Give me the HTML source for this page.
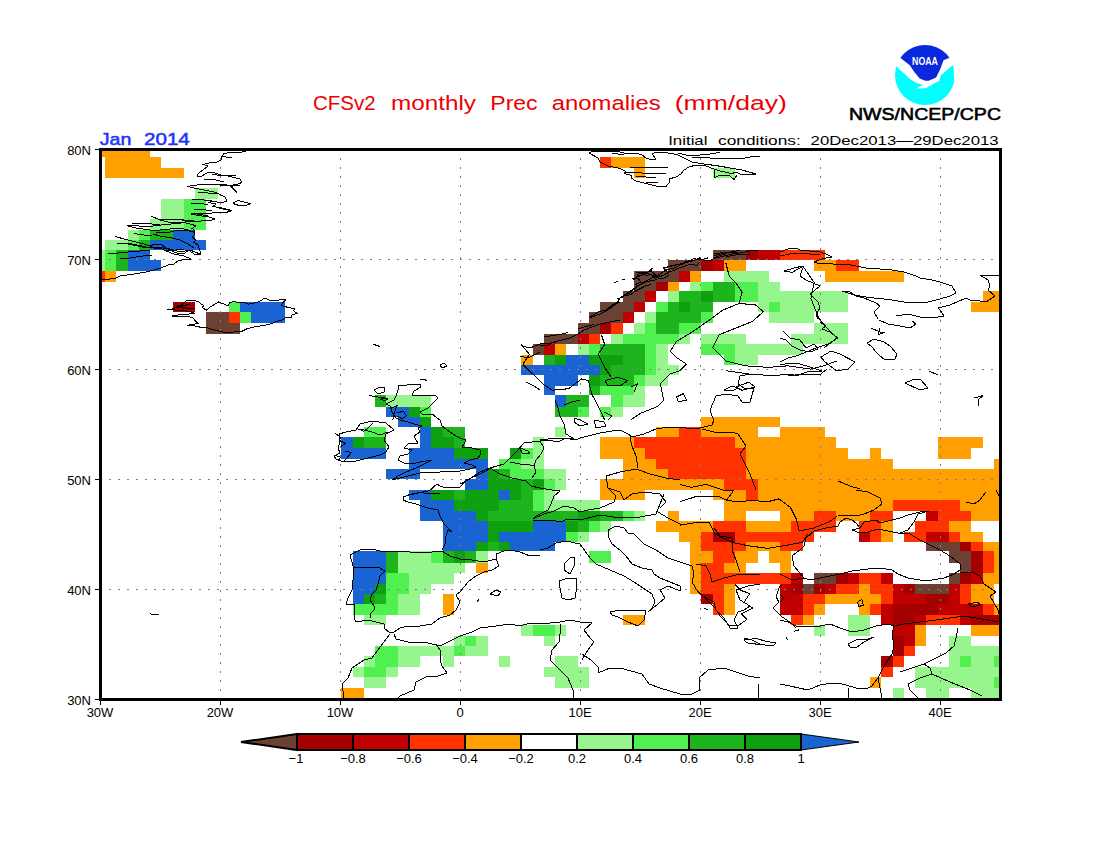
<!DOCTYPE html>
<html><head><meta charset="utf-8"><style>
html,body{margin:0;padding:0;background:#fff;}
svg{display:block;}
text{font-family:"Liberation Sans",sans-serif;}
</style></head><body>
<svg width="1100" height="850" viewBox="0 0 1100 850">
<rect x="0" y="0" width="1100" height="850" fill="#fff"/>
<g shape-rendering="crispEdges">
<rect x="101" y="150" width="49" height="7" fill="#ffa000"/>
<rect x="105" y="157" width="56" height="11" fill="#ffa000"/>
<rect x="600" y="157" width="11" height="11" fill="#ff3200"/>
<rect x="611" y="157" width="34" height="11" fill="#ffa000"/>
<rect x="105" y="168" width="79" height="10" fill="#ffa000"/>
<rect x="634" y="168" width="11" height="10" fill="#ffa000"/>
<rect x="713" y="168" width="22" height="10" fill="#96f58c"/>
<rect x="195" y="188" width="23" height="11" fill="#96f58c"/>
<rect x="161" y="199" width="23" height="10" fill="#96f58c"/>
<rect x="184" y="199" width="22" height="10" fill="#50f050"/>
<rect x="161" y="209" width="23" height="10" fill="#96f58c"/>
<rect x="184" y="209" width="22" height="10" fill="#50f050"/>
<rect x="150" y="219" width="34" height="11" fill="#96f58c"/>
<rect x="184" y="219" width="22" height="11" fill="#50f050"/>
<rect x="128" y="230" width="11" height="10" fill="#96f58c"/>
<rect x="139" y="230" width="11" height="10" fill="#50f050"/>
<rect x="150" y="230" width="23" height="10" fill="#1eb41e"/>
<rect x="173" y="230" width="22" height="10" fill="#1964d2"/>
<rect x="105" y="240" width="23" height="10" fill="#96f58c"/>
<rect x="128" y="240" width="11" height="10" fill="#50f050"/>
<rect x="139" y="240" width="11" height="10" fill="#1eb41e"/>
<rect x="150" y="240" width="56" height="10" fill="#1964d2"/>
<rect x="101" y="250" width="4" height="10" fill="#96f58c"/>
<rect x="105" y="250" width="11" height="10" fill="#50f050"/>
<rect x="116" y="250" width="12" height="10" fill="#1eb41e"/>
<rect x="128" y="250" width="22" height="10" fill="#1964d2"/>
<rect x="713" y="250" width="33" height="10" fill="#6b4134"/>
<rect x="746" y="250" width="12" height="10" fill="#a50000"/>
<rect x="758" y="250" width="22" height="10" fill="#c00000"/>
<rect x="780" y="250" width="45" height="10" fill="#ff3200"/>
<rect x="101" y="260" width="4" height="11" fill="#96f58c"/>
<rect x="105" y="260" width="11" height="11" fill="#50f050"/>
<rect x="116" y="260" width="12" height="11" fill="#1eb41e"/>
<rect x="128" y="260" width="33" height="11" fill="#1964d2"/>
<rect x="668" y="260" width="33" height="11" fill="#6b4134"/>
<rect x="701" y="260" width="12" height="11" fill="#a50000"/>
<rect x="713" y="260" width="11" height="11" fill="#c00000"/>
<rect x="724" y="260" width="22" height="11" fill="#ffa000"/>
<rect x="814" y="260" width="22" height="11" fill="#ffa000"/>
<rect x="836" y="260" width="23" height="11" fill="#ff3200"/>
<rect x="101" y="271" width="4" height="11" fill="#ff3200"/>
<rect x="105" y="271" width="11" height="11" fill="#ffa000"/>
<rect x="634" y="271" width="45" height="11" fill="#6b4134"/>
<rect x="679" y="271" width="11" height="11" fill="#c00000"/>
<rect x="690" y="271" width="11" height="11" fill="#ffa000"/>
<rect x="724" y="271" width="45" height="11" fill="#96f58c"/>
<rect x="825" y="271" width="79" height="11" fill="#ffa000"/>
<rect x="634" y="282" width="22" height="9" fill="#6b4134"/>
<rect x="656" y="282" width="12" height="9" fill="#a50000"/>
<rect x="668" y="282" width="11" height="9" fill="#ffa000"/>
<rect x="690" y="282" width="11" height="9" fill="#96f58c"/>
<rect x="701" y="282" width="12" height="9" fill="#50f050"/>
<rect x="713" y="282" width="22" height="9" fill="#1eb41e"/>
<rect x="735" y="282" width="23" height="9" fill="#50f050"/>
<rect x="758" y="282" width="22" height="9" fill="#96f58c"/>
<rect x="623" y="291" width="22" height="11" fill="#6b4134"/>
<rect x="645" y="291" width="11" height="11" fill="#c00000"/>
<rect x="668" y="291" width="11" height="11" fill="#96f58c"/>
<rect x="679" y="291" width="22" height="11" fill="#1eb41e"/>
<rect x="701" y="291" width="12" height="11" fill="#0fa00f"/>
<rect x="713" y="291" width="22" height="11" fill="#1eb41e"/>
<rect x="735" y="291" width="23" height="11" fill="#50f050"/>
<rect x="758" y="291" width="90" height="11" fill="#96f58c"/>
<rect x="983" y="291" width="17" height="11" fill="#ffa000"/>
<rect x="173" y="302" width="22" height="10" fill="#a50000"/>
<rect x="229" y="302" width="11" height="10" fill="#50f050"/>
<rect x="240" y="302" width="45" height="10" fill="#1964d2"/>
<rect x="600" y="302" width="34" height="10" fill="#6b4134"/>
<rect x="634" y="302" width="11" height="10" fill="#c00000"/>
<rect x="656" y="302" width="12" height="10" fill="#50f050"/>
<rect x="668" y="302" width="11" height="10" fill="#1eb41e"/>
<rect x="679" y="302" width="11" height="10" fill="#0fa00f"/>
<rect x="690" y="302" width="23" height="10" fill="#1eb41e"/>
<rect x="758" y="302" width="11" height="10" fill="#96f58c"/>
<rect x="769" y="302" width="11" height="10" fill="#50f050"/>
<rect x="780" y="302" width="68" height="10" fill="#96f58c"/>
<rect x="971" y="302" width="29" height="10" fill="#ffa000"/>
<rect x="206" y="312" width="23" height="11" fill="#6b4134"/>
<rect x="229" y="312" width="11" height="11" fill="#ff3200"/>
<rect x="240" y="312" width="11" height="11" fill="#50f050"/>
<rect x="251" y="312" width="34" height="11" fill="#1964d2"/>
<rect x="589" y="312" width="34" height="11" fill="#6b4134"/>
<rect x="623" y="312" width="11" height="11" fill="#c00000"/>
<rect x="645" y="312" width="11" height="11" fill="#96f58c"/>
<rect x="656" y="312" width="45" height="11" fill="#1eb41e"/>
<rect x="701" y="312" width="12" height="11" fill="#50f050"/>
<rect x="769" y="312" width="45" height="11" fill="#96f58c"/>
<rect x="206" y="323" width="34" height="11" fill="#6b4134"/>
<rect x="578" y="323" width="22" height="11" fill="#6b4134"/>
<rect x="600" y="323" width="11" height="11" fill="#a50000"/>
<rect x="611" y="323" width="12" height="11" fill="#ff3200"/>
<rect x="634" y="323" width="11" height="11" fill="#96f58c"/>
<rect x="645" y="323" width="11" height="11" fill="#50f050"/>
<rect x="656" y="323" width="23" height="11" fill="#1eb41e"/>
<rect x="679" y="323" width="22" height="11" fill="#50f050"/>
<rect x="814" y="323" width="34" height="11" fill="#96f58c"/>
<rect x="544" y="334" width="34" height="10" fill="#6b4134"/>
<rect x="578" y="334" width="11" height="10" fill="#c00000"/>
<rect x="589" y="334" width="11" height="10" fill="#ff3200"/>
<rect x="611" y="334" width="12" height="10" fill="#96f58c"/>
<rect x="623" y="334" width="56" height="10" fill="#50f050"/>
<rect x="679" y="334" width="11" height="10" fill="#96f58c"/>
<rect x="701" y="334" width="45" height="10" fill="#96f58c"/>
<rect x="791" y="334" width="57" height="10" fill="#96f58c"/>
<rect x="533" y="344" width="11" height="11" fill="#6b4134"/>
<rect x="544" y="344" width="11" height="11" fill="#c00000"/>
<rect x="555" y="344" width="11" height="11" fill="#ffa000"/>
<rect x="578" y="344" width="11" height="11" fill="#96f58c"/>
<rect x="589" y="344" width="11" height="11" fill="#50f050"/>
<rect x="600" y="344" width="45" height="11" fill="#1eb41e"/>
<rect x="645" y="344" width="11" height="11" fill="#50f050"/>
<rect x="656" y="344" width="12" height="11" fill="#96f58c"/>
<rect x="701" y="344" width="34" height="11" fill="#50f050"/>
<rect x="735" y="344" width="68" height="11" fill="#96f58c"/>
<rect x="521" y="355" width="12" height="10" fill="#ffa000"/>
<rect x="544" y="355" width="11" height="10" fill="#1eb41e"/>
<rect x="555" y="355" width="11" height="10" fill="#0fa00f"/>
<rect x="566" y="355" width="23" height="10" fill="#1964d2"/>
<rect x="589" y="355" width="34" height="10" fill="#0fa00f"/>
<rect x="623" y="355" width="22" height="10" fill="#1eb41e"/>
<rect x="645" y="355" width="11" height="10" fill="#50f050"/>
<rect x="656" y="355" width="12" height="10" fill="#96f58c"/>
<rect x="724" y="355" width="11" height="10" fill="#50f050"/>
<rect x="735" y="355" width="23" height="10" fill="#96f58c"/>
<rect x="521" y="365" width="79" height="10" fill="#1964d2"/>
<rect x="600" y="365" width="11" height="10" fill="#0fa00f"/>
<rect x="611" y="365" width="34" height="10" fill="#1eb41e"/>
<rect x="645" y="365" width="11" height="10" fill="#50f050"/>
<rect x="656" y="365" width="23" height="10" fill="#96f58c"/>
<rect x="544" y="375" width="34" height="11" fill="#1964d2"/>
<rect x="589" y="375" width="11" height="11" fill="#0fa00f"/>
<rect x="600" y="375" width="34" height="11" fill="#1eb41e"/>
<rect x="634" y="375" width="11" height="11" fill="#50f050"/>
<rect x="645" y="375" width="23" height="11" fill="#96f58c"/>
<rect x="544" y="386" width="11" height="9" fill="#1964d2"/>
<rect x="589" y="386" width="11" height="9" fill="#1eb41e"/>
<rect x="600" y="386" width="34" height="9" fill="#50f050"/>
<rect x="634" y="386" width="11" height="9" fill="#96f58c"/>
<rect x="375" y="395" width="11" height="12" fill="#1eb41e"/>
<rect x="386" y="395" width="45" height="12" fill="#96f58c"/>
<rect x="555" y="395" width="11" height="12" fill="#1964d2"/>
<rect x="566" y="395" width="23" height="12" fill="#1eb41e"/>
<rect x="611" y="395" width="12" height="12" fill="#50f050"/>
<rect x="623" y="395" width="22" height="12" fill="#96f58c"/>
<rect x="386" y="407" width="23" height="10" fill="#1964d2"/>
<rect x="409" y="407" width="11" height="10" fill="#0fa00f"/>
<rect x="420" y="407" width="11" height="10" fill="#50f050"/>
<rect x="555" y="407" width="23" height="10" fill="#1eb41e"/>
<rect x="578" y="407" width="11" height="10" fill="#50f050"/>
<rect x="600" y="407" width="11" height="10" fill="#50f050"/>
<rect x="611" y="407" width="12" height="10" fill="#96f58c"/>
<rect x="398" y="417" width="22" height="10" fill="#1964d2"/>
<rect x="420" y="417" width="11" height="10" fill="#0fa00f"/>
<rect x="701" y="417" width="79" height="10" fill="#ffa000"/>
<rect x="364" y="427" width="22" height="10" fill="#50f050"/>
<rect x="420" y="427" width="11" height="10" fill="#1964d2"/>
<rect x="431" y="427" width="12" height="10" fill="#0fa00f"/>
<rect x="443" y="427" width="22" height="10" fill="#1eb41e"/>
<rect x="555" y="427" width="11" height="10" fill="#96f58c"/>
<rect x="656" y="427" width="23" height="10" fill="#ffa000"/>
<rect x="679" y="427" width="22" height="10" fill="#ff3200"/>
<rect x="701" y="427" width="57" height="10" fill="#ffa000"/>
<rect x="780" y="427" width="45" height="10" fill="#ffa000"/>
<rect x="341" y="437" width="12" height="11" fill="#1964d2"/>
<rect x="353" y="437" width="11" height="11" fill="#0fa00f"/>
<rect x="364" y="437" width="22" height="11" fill="#1eb41e"/>
<rect x="420" y="437" width="11" height="11" fill="#1964d2"/>
<rect x="431" y="437" width="23" height="11" fill="#0fa00f"/>
<rect x="454" y="437" width="11" height="11" fill="#1eb41e"/>
<rect x="533" y="437" width="11" height="11" fill="#96f58c"/>
<rect x="600" y="437" width="34" height="11" fill="#ffa000"/>
<rect x="634" y="437" width="101" height="11" fill="#ff3200"/>
<rect x="735" y="437" width="101" height="11" fill="#ffa000"/>
<rect x="938" y="437" width="45" height="11" fill="#ffa000"/>
<rect x="341" y="448" width="45" height="11" fill="#1964d2"/>
<rect x="409" y="448" width="45" height="11" fill="#1964d2"/>
<rect x="454" y="448" width="34" height="11" fill="#0fa00f"/>
<rect x="510" y="448" width="11" height="11" fill="#0fa00f"/>
<rect x="521" y="448" width="12" height="11" fill="#50f050"/>
<rect x="533" y="448" width="11" height="11" fill="#96f58c"/>
<rect x="600" y="448" width="45" height="11" fill="#ffa000"/>
<rect x="645" y="448" width="101" height="11" fill="#ff3200"/>
<rect x="746" y="448" width="102" height="11" fill="#ffa000"/>
<rect x="870" y="448" width="11" height="11" fill="#ffa000"/>
<rect x="938" y="448" width="33" height="11" fill="#ffa000"/>
<rect x="409" y="459" width="79" height="10" fill="#1964d2"/>
<rect x="499" y="459" width="22" height="10" fill="#50f050"/>
<rect x="521" y="459" width="23" height="10" fill="#96f58c"/>
<rect x="623" y="459" width="33" height="10" fill="#ffa000"/>
<rect x="656" y="459" width="90" height="10" fill="#ff3200"/>
<rect x="746" y="459" width="147" height="10" fill="#ffa000"/>
<rect x="994" y="459" width="6" height="10" fill="#ffa000"/>
<rect x="386" y="469" width="34" height="10" fill="#1964d2"/>
<rect x="476" y="469" width="12" height="10" fill="#1964d2"/>
<rect x="488" y="469" width="11" height="10" fill="#0fa00f"/>
<rect x="499" y="469" width="11" height="10" fill="#1eb41e"/>
<rect x="510" y="469" width="34" height="10" fill="#50f050"/>
<rect x="544" y="469" width="22" height="10" fill="#96f58c"/>
<rect x="623" y="469" width="45" height="10" fill="#ffa000"/>
<rect x="668" y="469" width="78" height="10" fill="#ff3200"/>
<rect x="746" y="469" width="254" height="10" fill="#ffa000"/>
<rect x="465" y="479" width="23" height="11" fill="#1964d2"/>
<rect x="488" y="479" width="33" height="11" fill="#0fa00f"/>
<rect x="521" y="479" width="12" height="11" fill="#1eb41e"/>
<rect x="533" y="479" width="11" height="11" fill="#0fa00f"/>
<rect x="544" y="479" width="11" height="11" fill="#50f050"/>
<rect x="555" y="479" width="11" height="11" fill="#96f58c"/>
<rect x="600" y="479" width="124" height="11" fill="#ffa000"/>
<rect x="724" y="479" width="34" height="11" fill="#ff3200"/>
<rect x="758" y="479" width="242" height="11" fill="#ffa000"/>
<rect x="409" y="490" width="22" height="10" fill="#1964d2"/>
<rect x="431" y="490" width="23" height="10" fill="#0fa00f"/>
<rect x="454" y="490" width="11" height="10" fill="#1eb41e"/>
<rect x="465" y="490" width="34" height="10" fill="#0fa00f"/>
<rect x="499" y="490" width="11" height="10" fill="#1964d2"/>
<rect x="510" y="490" width="11" height="10" fill="#0fa00f"/>
<rect x="521" y="490" width="12" height="10" fill="#1eb41e"/>
<rect x="533" y="490" width="11" height="10" fill="#50f050"/>
<rect x="544" y="490" width="11" height="10" fill="#96f58c"/>
<rect x="600" y="490" width="45" height="10" fill="#ffa000"/>
<rect x="713" y="490" width="33" height="10" fill="#ffa000"/>
<rect x="746" y="490" width="12" height="10" fill="#ff3200"/>
<rect x="758" y="490" width="242" height="10" fill="#ffa000"/>
<rect x="420" y="500" width="34" height="11" fill="#1964d2"/>
<rect x="454" y="500" width="45" height="11" fill="#0fa00f"/>
<rect x="499" y="500" width="34" height="11" fill="#1eb41e"/>
<rect x="533" y="500" width="11" height="11" fill="#50f050"/>
<rect x="544" y="500" width="56" height="11" fill="#96f58c"/>
<rect x="724" y="500" width="169" height="11" fill="#ffa000"/>
<rect x="893" y="500" width="67" height="11" fill="#ff3200"/>
<rect x="960" y="500" width="40" height="11" fill="#ffa000"/>
<rect x="420" y="511" width="56" height="10" fill="#1964d2"/>
<rect x="476" y="511" width="12" height="10" fill="#0fa00f"/>
<rect x="488" y="511" width="90" height="10" fill="#1eb41e"/>
<rect x="578" y="511" width="22" height="10" fill="#0fa00f"/>
<rect x="600" y="511" width="23" height="10" fill="#1eb41e"/>
<rect x="623" y="511" width="11" height="10" fill="#50f050"/>
<rect x="634" y="511" width="11" height="10" fill="#96f58c"/>
<rect x="668" y="511" width="11" height="10" fill="#ffa000"/>
<rect x="724" y="511" width="22" height="10" fill="#ffa000"/>
<rect x="780" y="511" width="34" height="10" fill="#ffa000"/>
<rect x="814" y="511" width="22" height="10" fill="#ff3200"/>
<rect x="836" y="511" width="34" height="10" fill="#ffa000"/>
<rect x="870" y="511" width="23" height="10" fill="#ff3200"/>
<rect x="926" y="511" width="12" height="10" fill="#c00000"/>
<rect x="938" y="511" width="33" height="10" fill="#ff3200"/>
<rect x="971" y="511" width="29" height="10" fill="#ffa000"/>
<rect x="443" y="521" width="45" height="11" fill="#1964d2"/>
<rect x="488" y="521" width="45" height="11" fill="#0fa00f"/>
<rect x="533" y="521" width="33" height="11" fill="#1964d2"/>
<rect x="566" y="521" width="12" height="11" fill="#0fa00f"/>
<rect x="578" y="521" width="11" height="11" fill="#1eb41e"/>
<rect x="589" y="521" width="11" height="11" fill="#50f050"/>
<rect x="600" y="521" width="11" height="11" fill="#96f58c"/>
<rect x="656" y="521" width="57" height="11" fill="#ffa000"/>
<rect x="713" y="521" width="33" height="11" fill="#ff3200"/>
<rect x="746" y="521" width="45" height="11" fill="#ffa000"/>
<rect x="791" y="521" width="45" height="11" fill="#ff3200"/>
<rect x="859" y="521" width="22" height="11" fill="#ff3200"/>
<rect x="881" y="521" width="12" height="11" fill="#ffa000"/>
<rect x="915" y="521" width="34" height="11" fill="#ff3200"/>
<rect x="949" y="521" width="22" height="11" fill="#ffa000"/>
<rect x="443" y="532" width="45" height="10" fill="#1964d2"/>
<rect x="488" y="532" width="11" height="10" fill="#0fa00f"/>
<rect x="499" y="532" width="67" height="10" fill="#1964d2"/>
<rect x="566" y="532" width="12" height="10" fill="#50f050"/>
<rect x="578" y="532" width="11" height="10" fill="#96f58c"/>
<rect x="679" y="532" width="22" height="10" fill="#ffa000"/>
<rect x="701" y="532" width="12" height="10" fill="#ff3200"/>
<rect x="713" y="532" width="22" height="10" fill="#a50000"/>
<rect x="735" y="532" width="79" height="10" fill="#ff3200"/>
<rect x="859" y="532" width="11" height="10" fill="#c00000"/>
<rect x="870" y="532" width="11" height="10" fill="#ff3200"/>
<rect x="881" y="532" width="12" height="10" fill="#ffa000"/>
<rect x="904" y="532" width="22" height="10" fill="#ff3200"/>
<rect x="926" y="532" width="23" height="10" fill="#c00000"/>
<rect x="949" y="532" width="11" height="10" fill="#ff3200"/>
<rect x="960" y="532" width="23" height="10" fill="#ffa000"/>
<rect x="443" y="542" width="33" height="9" fill="#1964d2"/>
<rect x="476" y="542" width="12" height="9" fill="#0fa00f"/>
<rect x="488" y="542" width="11" height="9" fill="#1eb41e"/>
<rect x="499" y="542" width="11" height="9" fill="#0fa00f"/>
<rect x="510" y="542" width="45" height="9" fill="#1964d2"/>
<rect x="690" y="542" width="11" height="9" fill="#ffa000"/>
<rect x="701" y="542" width="45" height="9" fill="#ff3200"/>
<rect x="746" y="542" width="34" height="9" fill="#ffa000"/>
<rect x="780" y="542" width="23" height="9" fill="#ff3200"/>
<rect x="926" y="542" width="34" height="9" fill="#6b4134"/>
<rect x="960" y="542" width="11" height="9" fill="#a50000"/>
<rect x="971" y="542" width="12" height="9" fill="#ff3200"/>
<rect x="983" y="542" width="17" height="9" fill="#ffa000"/>
<rect x="353" y="551" width="33" height="12" fill="#1964d2"/>
<rect x="386" y="551" width="12" height="12" fill="#1eb41e"/>
<rect x="398" y="551" width="33" height="12" fill="#96f58c"/>
<rect x="431" y="551" width="12" height="12" fill="#50f050"/>
<rect x="443" y="551" width="11" height="12" fill="#1eb41e"/>
<rect x="454" y="551" width="11" height="12" fill="#0fa00f"/>
<rect x="465" y="551" width="11" height="12" fill="#1eb41e"/>
<rect x="476" y="551" width="12" height="12" fill="#96f58c"/>
<rect x="589" y="551" width="22" height="12" fill="#50f050"/>
<rect x="690" y="551" width="23" height="12" fill="#ffa000"/>
<rect x="713" y="551" width="22" height="12" fill="#ff3200"/>
<rect x="735" y="551" width="23" height="12" fill="#ffa000"/>
<rect x="769" y="551" width="22" height="12" fill="#ffa000"/>
<rect x="949" y="551" width="22" height="12" fill="#6b4134"/>
<rect x="971" y="551" width="12" height="12" fill="#a50000"/>
<rect x="983" y="551" width="11" height="12" fill="#ff3200"/>
<rect x="994" y="551" width="6" height="12" fill="#ffa000"/>
<rect x="353" y="563" width="33" height="10" fill="#1964d2"/>
<rect x="386" y="563" width="12" height="10" fill="#1eb41e"/>
<rect x="398" y="563" width="67" height="10" fill="#96f58c"/>
<rect x="476" y="563" width="12" height="10" fill="#ffa000"/>
<rect x="690" y="563" width="11" height="10" fill="#ffa000"/>
<rect x="701" y="563" width="23" height="10" fill="#ff3200"/>
<rect x="724" y="563" width="22" height="10" fill="#ffa000"/>
<rect x="780" y="563" width="11" height="10" fill="#ffa000"/>
<rect x="960" y="563" width="11" height="10" fill="#6b4134"/>
<rect x="971" y="563" width="12" height="10" fill="#a50000"/>
<rect x="983" y="563" width="11" height="10" fill="#ff3200"/>
<rect x="994" y="563" width="6" height="10" fill="#ffa000"/>
<rect x="353" y="573" width="33" height="11" fill="#1964d2"/>
<rect x="386" y="573" width="23" height="11" fill="#50f050"/>
<rect x="409" y="573" width="45" height="11" fill="#96f58c"/>
<rect x="690" y="573" width="11" height="11" fill="#ffa000"/>
<rect x="701" y="573" width="90" height="11" fill="#ff3200"/>
<rect x="791" y="573" width="12" height="11" fill="#c00000"/>
<rect x="814" y="573" width="22" height="11" fill="#6b4134"/>
<rect x="836" y="573" width="12" height="11" fill="#a50000"/>
<rect x="848" y="573" width="11" height="11" fill="#c00000"/>
<rect x="859" y="573" width="22" height="11" fill="#ff3200"/>
<rect x="881" y="573" width="12" height="11" fill="#c00000"/>
<rect x="949" y="573" width="11" height="11" fill="#6b4134"/>
<rect x="960" y="573" width="11" height="11" fill="#a50000"/>
<rect x="971" y="573" width="12" height="11" fill="#c00000"/>
<rect x="983" y="573" width="17" height="11" fill="#ffa000"/>
<rect x="353" y="584" width="22" height="10" fill="#1964d2"/>
<rect x="375" y="584" width="11" height="10" fill="#0fa00f"/>
<rect x="386" y="584" width="23" height="10" fill="#50f050"/>
<rect x="409" y="584" width="22" height="10" fill="#96f58c"/>
<rect x="690" y="584" width="11" height="10" fill="#ffa000"/>
<rect x="701" y="584" width="23" height="10" fill="#ff3200"/>
<rect x="724" y="584" width="11" height="10" fill="#ffa000"/>
<rect x="780" y="584" width="11" height="10" fill="#c00000"/>
<rect x="791" y="584" width="12" height="10" fill="#a50000"/>
<rect x="803" y="584" width="11" height="10" fill="#6b4134"/>
<rect x="814" y="584" width="11" height="10" fill="#a50000"/>
<rect x="825" y="584" width="11" height="10" fill="#c00000"/>
<rect x="836" y="584" width="23" height="10" fill="#ff3200"/>
<rect x="859" y="584" width="11" height="10" fill="#ffa000"/>
<rect x="870" y="584" width="23" height="10" fill="#ff3200"/>
<rect x="893" y="584" width="11" height="10" fill="#c00000"/>
<rect x="904" y="584" width="11" height="10" fill="#a50000"/>
<rect x="915" y="584" width="34" height="10" fill="#6b4134"/>
<rect x="949" y="584" width="11" height="10" fill="#c00000"/>
<rect x="960" y="584" width="11" height="10" fill="#ff3200"/>
<rect x="971" y="584" width="23" height="10" fill="#ffa000"/>
<rect x="353" y="594" width="11" height="10" fill="#1964d2"/>
<rect x="364" y="594" width="11" height="10" fill="#0fa00f"/>
<rect x="375" y="594" width="11" height="10" fill="#1eb41e"/>
<rect x="386" y="594" width="12" height="10" fill="#50f050"/>
<rect x="398" y="594" width="22" height="10" fill="#96f58c"/>
<rect x="443" y="594" width="11" height="10" fill="#ffa000"/>
<rect x="701" y="594" width="12" height="10" fill="#a50000"/>
<rect x="713" y="594" width="11" height="10" fill="#ff3200"/>
<rect x="724" y="594" width="11" height="10" fill="#ffa000"/>
<rect x="780" y="594" width="23" height="10" fill="#c00000"/>
<rect x="803" y="594" width="22" height="10" fill="#ff3200"/>
<rect x="825" y="594" width="56" height="10" fill="#ffa000"/>
<rect x="881" y="594" width="12" height="10" fill="#ff3200"/>
<rect x="893" y="594" width="33" height="10" fill="#c00000"/>
<rect x="926" y="594" width="23" height="10" fill="#a50000"/>
<rect x="949" y="594" width="11" height="10" fill="#c00000"/>
<rect x="960" y="594" width="11" height="10" fill="#ff3200"/>
<rect x="971" y="594" width="23" height="10" fill="#ffa000"/>
<rect x="353" y="604" width="45" height="11" fill="#50f050"/>
<rect x="398" y="604" width="22" height="11" fill="#96f58c"/>
<rect x="443" y="604" width="11" height="11" fill="#ffa000"/>
<rect x="713" y="604" width="11" height="11" fill="#ff3200"/>
<rect x="724" y="604" width="11" height="11" fill="#ffa000"/>
<rect x="780" y="604" width="23" height="11" fill="#c00000"/>
<rect x="803" y="604" width="11" height="11" fill="#ff3200"/>
<rect x="814" y="604" width="11" height="11" fill="#ffa000"/>
<rect x="859" y="604" width="11" height="11" fill="#ffa000"/>
<rect x="870" y="604" width="11" height="11" fill="#ff3200"/>
<rect x="881" y="604" width="12" height="11" fill="#c00000"/>
<rect x="893" y="604" width="45" height="11" fill="#a50000"/>
<rect x="938" y="604" width="45" height="11" fill="#c00000"/>
<rect x="983" y="604" width="11" height="11" fill="#ff3200"/>
<rect x="994" y="604" width="6" height="11" fill="#ffa000"/>
<rect x="364" y="615" width="22" height="10" fill="#96f58c"/>
<rect x="623" y="615" width="22" height="10" fill="#ffa000"/>
<rect x="791" y="615" width="12" height="10" fill="#ff3200"/>
<rect x="803" y="615" width="11" height="10" fill="#ffa000"/>
<rect x="848" y="615" width="22" height="10" fill="#96f58c"/>
<rect x="881" y="615" width="12" height="10" fill="#c00000"/>
<rect x="893" y="615" width="22" height="10" fill="#a50000"/>
<rect x="915" y="615" width="11" height="10" fill="#c00000"/>
<rect x="926" y="615" width="34" height="10" fill="#ff3200"/>
<rect x="960" y="615" width="11" height="10" fill="#c00000"/>
<rect x="971" y="615" width="29" height="10" fill="#a50000"/>
<rect x="521" y="625" width="12" height="11" fill="#96f58c"/>
<rect x="533" y="625" width="22" height="11" fill="#50f050"/>
<rect x="555" y="625" width="11" height="11" fill="#96f58c"/>
<rect x="814" y="625" width="11" height="11" fill="#96f58c"/>
<rect x="848" y="625" width="22" height="11" fill="#96f58c"/>
<rect x="893" y="625" width="22" height="11" fill="#c00000"/>
<rect x="915" y="625" width="11" height="11" fill="#ffa000"/>
<rect x="971" y="625" width="29" height="11" fill="#ffa000"/>
<rect x="454" y="636" width="11" height="10" fill="#96f58c"/>
<rect x="465" y="636" width="11" height="10" fill="#50f050"/>
<rect x="476" y="636" width="12" height="10" fill="#96f58c"/>
<rect x="544" y="636" width="11" height="10" fill="#96f58c"/>
<rect x="893" y="636" width="11" height="10" fill="#a50000"/>
<rect x="904" y="636" width="11" height="10" fill="#c00000"/>
<rect x="915" y="636" width="11" height="10" fill="#ffa000"/>
<rect x="949" y="636" width="22" height="10" fill="#96f58c"/>
<rect x="375" y="646" width="23" height="10" fill="#50f050"/>
<rect x="398" y="646" width="56" height="10" fill="#96f58c"/>
<rect x="454" y="646" width="11" height="10" fill="#50f050"/>
<rect x="465" y="646" width="23" height="10" fill="#96f58c"/>
<rect x="893" y="646" width="11" height="10" fill="#a50000"/>
<rect x="904" y="646" width="11" height="10" fill="#ff3200"/>
<rect x="949" y="646" width="51" height="10" fill="#96f58c"/>
<rect x="364" y="656" width="11" height="11" fill="#96f58c"/>
<rect x="375" y="656" width="23" height="11" fill="#50f050"/>
<rect x="398" y="656" width="22" height="11" fill="#96f58c"/>
<rect x="443" y="656" width="11" height="11" fill="#96f58c"/>
<rect x="499" y="656" width="11" height="11" fill="#96f58c"/>
<rect x="555" y="656" width="23" height="11" fill="#96f58c"/>
<rect x="881" y="656" width="12" height="11" fill="#a50000"/>
<rect x="893" y="656" width="11" height="11" fill="#ff3200"/>
<rect x="949" y="656" width="11" height="11" fill="#96f58c"/>
<rect x="960" y="656" width="11" height="11" fill="#50f050"/>
<rect x="971" y="656" width="23" height="11" fill="#96f58c"/>
<rect x="994" y="656" width="6" height="11" fill="#50f050"/>
<rect x="353" y="667" width="11" height="10" fill="#96f58c"/>
<rect x="364" y="667" width="22" height="10" fill="#50f050"/>
<rect x="386" y="667" width="12" height="10" fill="#96f58c"/>
<rect x="544" y="667" width="45" height="10" fill="#96f58c"/>
<rect x="881" y="667" width="12" height="10" fill="#ff3200"/>
<rect x="915" y="667" width="85" height="10" fill="#96f58c"/>
<rect x="364" y="677" width="22" height="11" fill="#96f58c"/>
<rect x="555" y="677" width="34" height="11" fill="#96f58c"/>
<rect x="870" y="677" width="11" height="11" fill="#ffa000"/>
<rect x="915" y="677" width="79" height="11" fill="#96f58c"/>
<rect x="994" y="677" width="6" height="11" fill="#50f050"/>
<rect x="341" y="688" width="23" height="10" fill="#ffa000"/>
<rect x="893" y="688" width="11" height="10" fill="#96f58c"/>
<rect x="926" y="688" width="23" height="10" fill="#96f58c"/>
<rect x="971" y="688" width="29" height="10" fill="#96f58c"/>
</g>
<g shape-rendering="crispEdges">
<line x1="220.5" y1="151" x2="220.5" y2="698" stroke="#808080" stroke-width="1" stroke-dasharray="2 7" stroke-dashoffset="-7"/>
<line x1="340.5" y1="151" x2="340.5" y2="698" stroke="#808080" stroke-width="1" stroke-dasharray="2 7" stroke-dashoffset="-7"/>
<line x1="460.5" y1="151" x2="460.5" y2="698" stroke="#808080" stroke-width="1" stroke-dasharray="2 7" stroke-dashoffset="-7"/>
<line x1="580.5" y1="151" x2="580.5" y2="698" stroke="#808080" stroke-width="1" stroke-dasharray="2 7" stroke-dashoffset="-7"/>
<line x1="700.5" y1="151" x2="700.5" y2="698" stroke="#808080" stroke-width="1" stroke-dasharray="2 7" stroke-dashoffset="-7"/>
<line x1="820.5" y1="151" x2="820.5" y2="698" stroke="#808080" stroke-width="1" stroke-dasharray="2 7" stroke-dashoffset="-7"/>
<line x1="940.5" y1="151" x2="940.5" y2="698" stroke="#808080" stroke-width="1" stroke-dasharray="2 7" stroke-dashoffset="-7"/>
<line x1="102" y1="259.5" x2="999" y2="259.5" stroke="#808080" stroke-width="1" stroke-dasharray="2 7" stroke-dashoffset="-7"/>
<line x1="102" y1="369.5" x2="999" y2="369.5" stroke="#808080" stroke-width="1" stroke-dasharray="2 7" stroke-dashoffset="-7"/>
<line x1="102" y1="479.5" x2="999" y2="479.5" stroke="#808080" stroke-width="1" stroke-dasharray="2 7" stroke-dashoffset="-7"/>
<line x1="102" y1="589.5" x2="999" y2="589.5" stroke="#808080" stroke-width="1" stroke-dasharray="2 7" stroke-dashoffset="-7"/>
</g>
<g fill="none" stroke="#000" stroke-width="1" stroke-linejoin="round" shape-rendering="crispEdges">
<polyline points="246.0,151.0 240.0,152.4 230.0,152.4 224.0,153.6 221.0,157.0 221.0,160.0 217.0,162.0 209.0,163.0 203.0,164.4 208.0,166.0 203.0,170.0 198.0,173.6 197.6,176.4 201.0,177.0 205.0,174.0 209.0,172.0 215.0,173.0 221.0,175.0 228.0,176.0 240.0,179.0 242.0,182.4 238.0,184.0 233.0,185.0 232.0,188.0 237.0,192.4 234.0,189.0 230.0,185.6 223.0,184.4 212.0,184.4 202.0,184.0 194.0,185.6 187.0,186.4 194.0,188.0 202.0,189.6 209.0,191.0 214.0,192.0 220.0,194.4 225.0,197.0 227.0,201.6 221.0,202.4 213.0,201.6 208.0,202.4 216.0,204.0 213.0,206.4 222.0,208.0 229.0,209.6 231.0,211.0 224.0,213.0 218.0,212.0 209.0,213.6 202.0,214.0 196.0,213.6 191.0,214.0 199.0,215.6 209.0,217.0 215.0,219.0 211.0,220.4 201.0,221.0 194.0,222.0 187.0,221.6 184.0,222.4 192.0,224.4 196.0,226.0 192.0,228.4 194.0,230.0 195.0,233.6 192.0,237.0 196.0,240.0 194.0,242.4 198.0,245.0 201.0,254.0 196.0,255.0 191.0,252.0 189.0,250.0 185.0,253.0 179.0,254.0 172.0,251.0 166.0,248.0 162.0,245.0 155.0,244.0 150.0,246.0 154.0,248.0 160.0,248.0 166.0,251.0 174.0,254.0 184.0,256.0 191.0,259.0 184.0,259.6 178.0,261.0 174.0,264.0 168.0,265.0 162.0,267.6 154.0,270.0 146.0,272.0 134.0,274.0 120.0,276.0 116.0,278.0 106.0,279.6 102.0,280.0"/>
<polyline points="127.0,226.0 136.0,225.6 146.0,227.0 156.0,225.6 166.0,224.4 176.0,223.6 186.0,222.4"/>
<polyline points="151.0,216.0 160.0,220.0 168.0,222.0 176.0,223.0 186.0,222.0"/>
<polyline points="132.0,223.0 142.0,223.6 152.0,224.0 160.0,224.4"/>
<polyline points="115.0,236.4 124.0,239.0 134.0,241.6 144.0,244.0 150.0,246.0"/>
<polyline points="117.0,243.0 128.0,244.0 138.0,246.0 146.0,248.0"/>
<polyline points="108.0,254.0 118.0,253.0 128.0,252.0 140.0,251.0 150.0,250.0"/>
<polyline points="120.0,259.0 130.0,258.0 140.0,256.4 152.0,255.0"/>
<polyline points="128.0,226.0 138.0,228.4 150.0,230.0 160.0,230.0 170.0,229.0 180.0,228.0 188.0,230.0 194.0,232.0"/>
<polyline points="169.0,219.0 176.0,219.6 184.0,220.0 190.0,220.4"/>
<polyline points="198.0,192.0 208.0,193.0 218.0,193.6"/>
<polyline points="192.0,199.0 204.0,200.0 212.0,200.4"/>
<polyline points="191.0,204.0 200.0,203.6 208.0,204.4"/>
<polyline points="191.0,213.0 200.0,214.4 208.0,216.0"/>
<polyline points="212.0,174.0 220.0,175.6 228.0,176.0 236.0,175.6"/>
<polyline points="222.0,156.0 228.0,157.6 232.0,157.6"/>
<polyline points="233.0,203.0 238.0,200.4 244.0,202.0 251.0,203.6 247.0,205.0 240.0,205.6 235.0,204.4 233.0,203.0"/>
<polyline points="151.0,216.0 158.0,219.0 166.0,220.0 176.0,219.0 184.0,220.4 194.0,220.4"/>
<polyline points="156.0,232.0 166.0,233.0 176.0,230.4 186.0,230.0 194.0,232.4"/>
<polyline points="117.0,243.0 130.0,243.6 140.0,245.6 150.0,248.0 160.0,247.6 170.0,249.0 180.0,252.0 190.0,250.0 200.0,254.0"/>
<polyline points="153.0,234.0 160.0,236.0 172.0,238.0 180.0,240.0 188.0,244.0 194.0,248.0"/>
<polyline points="194.0,210.0 204.0,209.6 212.0,211.0"/>
<polyline points="219.0,208.0 228.0,210.0 232.0,211.0"/>
<polyline points="204.0,179.0 216.0,180.0 224.0,182.0"/>
<polyline points="220.0,185.0 232.0,186.0 240.0,185.6"/>
<polyline points="166.0,251.0 176.0,250.0 184.0,249.0"/>
<polyline points="134.0,233.6 144.0,235.0 152.0,236.0"/>
<polyline points="540.0,550.0 548.0,548.0 556.0,543.0 566.0,541.0 580.0,544.0 590.0,558.0 596.0,564.0 610.0,570.0 624.0,576.0 634.0,582.0 646.0,590.0 652.0,594.0 655.0,602.0 652.0,608.0 648.0,612.0 658.0,604.0 665.0,598.0 660.0,590.0 668.0,586.0 680.0,591.0 680.0,586.0 670.0,582.0 660.0,578.0 654.0,574.0 652.0,570.0 642.0,568.0 632.0,564.0 626.0,556.0 620.0,550.0 612.0,544.0 608.0,536.0 608.0,530.0 616.0,526.0 624.0,528.0 628.0,533.0 634.0,534.0 644.0,544.0 656.0,550.0 668.0,558.0 680.0,562.0 692.0,566.0 694.0,574.0 692.0,582.0 698.0,592.0 706.0,598.0 714.0,602.0 716.0,610.0 724.0,618.0 730.0,628.0 738.0,628.0 734.0,620.0 738.0,612.0 744.0,610.0 750.0,606.0 740.0,600.0 736.0,590.0 748.0,586.0 760.0,584.0"/>
<polyline points="714.0,528.0 720.0,536.0 732.0,538.0 732.0,550.0 736.0,560.0 740.0,572.0"/>
<polyline points="712.0,582.0 724.0,578.0 740.0,574.0 760.0,574.0"/>
<polyline points="696.0,564.0 706.0,566.0 710.0,574.0 712.0,582.0"/>
<polyline points="564.0,564.0 570.0,558.0 575.0,557.0 574.0,566.0 570.0,574.0 564.0,570.0 564.0,564.0"/>
<polyline points="559.0,581.0 568.0,578.0 576.0,578.0 577.0,586.0 575.0,598.0 568.0,600.0 562.0,598.0 560.0,588.0 559.0,581.0"/>
<polyline points="610.0,612.0 620.0,610.0 634.0,611.0 646.0,610.0 644.0,620.0 638.0,626.0 628.0,622.0 618.0,617.0 612.0,615.0 610.0,612.0"/>
<polyline points="540.0,624.0 550.0,623.0 560.0,622.0 570.0,620.0 580.0,622.0 592.0,623.0 584.0,630.0 590.0,638.0 594.0,642.0 588.0,650.0 582.0,660.0"/>
<polyline points="560.0,624.0 560.0,634.0 559.0,642.0 552.0,650.0 550.0,660.0"/>
<polyline points="704.0,608.0 708.0,610.0"/>
<polyline points="744.0,638.0 752.0,640.0 760.0,644.0"/>
<polyline points="804.0,578.0 794.0,566.0 792.0,556.0 800.0,550.0 804.0,546.0 806.0,538.0 814.0,531.0 826.0,528.0 838.0,526.0 840.0,522.0 846.0,518.0 852.0,520.0 856.0,523.0 860.0,528.0 852.0,530.0 860.0,533.0 868.0,532.0 878.0,529.0 888.0,531.0 898.0,533.0 910.0,534.0 920.0,540.0 932.0,546.0 940.0,550.0 950.0,556.0 960.0,564.0 960.0,570.0 954.0,574.0 944.0,578.0 932.0,580.0 920.0,580.0 908.0,578.0 898.0,574.0 892.0,570.0 880.0,568.0 868.0,569.0 852.0,571.0 840.0,574.0 830.0,576.0 820.0,578.0 810.0,580.0 804.0,578.0"/>
<polyline points="860.0,528.0 864.0,522.0 876.0,520.0 880.0,523.0 892.0,520.0 900.0,518.0 908.0,515.0 920.0,512.0 929.0,511.0 918.0,514.0 914.0,522.0 908.0,530.0 900.0,533.0"/>
<polyline points="856.0,490.0 868.0,492.0 880.0,498.0 882.0,504.0 874.0,510.0 864.0,514.0 856.0,516.0 846.0,515.0 838.0,516.0"/>
<polyline points="780.0,620.0 788.0,622.0 796.0,626.0 810.0,626.0 820.0,626.0 830.0,624.0 840.0,628.0 852.0,632.0 864.0,630.0 876.0,626.0 888.0,624.0 894.0,626.0 892.0,634.0 894.0,646.0 892.0,654.0 888.0,660.0"/>
<polyline points="894.0,626.0 904.0,624.0 920.0,622.0 936.0,620.0 950.0,618.0 964.0,616.0 976.0,618.0 988.0,620.0 998.0,622.0"/>
<polyline points="848.0,644.0 856.0,640.0 868.0,639.0 874.0,637.0 864.0,642.0 856.0,648.0 850.0,647.0 848.0,644.0"/>
<polyline points="960.0,572.0 972.0,572.0 980.0,576.0 984.0,584.0 996.0,592.0 990.0,596.0 998.0,610.0 1000.0,618.0"/>
<polyline points="968.0,604.0 978.0,602.0 980.0,605.0 972.0,607.0 968.0,604.0"/>
<polyline points="780.0,574.0 792.0,580.0 804.0,578.0"/>
<polyline points="780.0,594.0 784.0,598.0 780.0,602.0"/>
<polyline points="966.0,502.0 974.0,504.0 980.0,500.0 986.0,492.0"/>
<polyline points="996.0,490.0 1000.0,498.0"/>
<polyline points="372.0,658.0 364.0,660.0 352.0,668.0 348.0,678.0 342.0,684.0 344.0,698.0"/>
<polyline points="440.0,660.0 442.0,666.0 447.0,673.0 438.0,676.0 428.0,676.0 416.0,682.0 414.0,690.0 400.0,696.0 398.0,698.0"/>
<polyline points="582.0,654.0 591.0,660.0 599.0,668.0 598.0,673.0 610.0,668.0 620.0,668.0 642.0,674.0 649.0,684.0 660.0,688.0 680.0,694.0 690.0,695.0 700.0,690.0 699.0,678.0 708.0,670.0 724.0,668.0 736.0,672.0 748.0,676.0 760.0,678.0"/>
<polyline points="550.0,660.0 560.0,670.0 568.0,678.0 573.0,690.0 574.0,698.0"/>
<polyline points="758.0,684.0 759.0,698.0"/>
<polyline points="888.0,660.0 884.0,666.0 882.0,670.0 878.0,678.0 872.0,686.0 868.0,688.0 856.0,688.0 846.0,685.0 842.0,684.0 832.0,683.0 820.0,685.0 808.0,690.0 790.0,686.0 780.0,684.0"/>
<polyline points="848.0,688.0 849.0,698.0"/>
<polyline points="878.0,678.0 880.0,688.0 882.0,698.0"/>
<polyline points="900.0,672.0 924.0,664.0 936.0,658.0 946.0,653.0 954.0,646.0 956.0,638.0 958.0,628.0"/>
<polyline points="924.0,664.0 930.0,668.0 932.0,674.0 920.0,678.0 908.0,684.0 910.0,690.0 918.0,698.0"/>
<polyline points="932.0,674.0 950.0,682.0 970.0,690.0 982.0,696.0"/>
<polyline points="555.0,400.0 558.0,408.0 560.0,416.0 564.0,424.0 566.0,434.0 576.0,440.0"/>
<polyline points="564.0,405.0 572.0,402.0 580.0,400.0"/>
<polyline points="574.0,418.0 580.0,420.0 588.0,424.0 580.0,426.0 574.0,422.0 574.0,418.0"/>
<polyline points="594.0,420.0 604.0,422.0 606.0,426.0 596.0,428.0 594.0,420.0"/>
<polyline points="604.0,412.0 612.0,416.0 608.0,420.0"/>
<polyline points="460.0,484.0 468.0,480.0 480.0,472.0 490.0,468.0 504.0,464.0 510.0,458.0 516.0,452.0 524.0,443.0 532.0,442.0 540.0,441.0 548.0,440.0 558.0,442.0 564.0,439.0 570.0,438.0 576.0,440.0"/>
<polyline points="520.0,448.0 528.0,451.0 530.0,454.0 522.0,453.0 520.0,448.0"/>
<polyline points="540.0,441.0 544.0,448.0 541.0,454.0 536.0,460.0 534.0,466.0 536.0,472.0 532.0,478.0"/>
<polyline points="490.0,468.0 500.0,474.0 512.0,478.0 526.0,481.0 531.0,486.0 540.0,488.0 552.0,490.0 560.0,491.0"/>
<polyline points="510.0,462.0 520.0,464.0 530.0,465.0 534.0,466.0"/>
<polyline points="560.0,491.0 554.0,496.0 551.0,504.0 548.0,510.0 536.0,516.0 533.0,519.0"/>
<polyline points="533.0,519.0 544.0,514.0 554.0,511.0 564.0,506.0 574.0,508.0 580.0,512.0 588.0,510.0 600.0,508.0 614.0,502.0 616.0,496.0 608.0,488.0 606.0,476.0"/>
<polyline points="533.0,520.0 542.0,521.0 552.0,520.0 560.0,522.0 568.0,519.0 580.0,520.0 600.0,515.0 620.0,518.0 640.0,517.0 656.0,514.0 660.0,504.0 664.0,494.0"/>
<polyline points="606.0,476.0 620.0,472.0 636.0,469.0 650.0,474.0 666.0,478.0 680.0,480.0"/>
<polyline points="608.0,488.0 620.0,492.0 624.0,500.0 632.0,494.0 644.0,492.0 660.0,494.0 666.0,502.0 660.0,508.0"/>
<polyline points="630.0,437.0 632.0,446.0 636.0,456.0 638.0,468.0"/>
<polyline points="658.0,512.0 668.0,518.0 680.0,524.0"/>
<polyline points="680.0,484.4 691.6,487.3 706.2,484.4 723.6,490.2 733.8,490.2 726.5,500.4"/>
<polyline points="680.0,501.8 697.5,496.0 717.8,496.0 726.5,500.4 738.2,501.8 752.7,500.4 767.3,501.8 778.9,498.9 790.5,507.6 796.4,519.3 799.3,530.9 813.8,528.0 828.4,522.2 837.1,516.4"/>
<polyline points="680.0,525.1 697.5,522.2 709.1,522.2 714.9,533.8 732.4,542.5 746.9,545.5 767.3,548.4 784.7,545.5 802.2,542.5 808.0,533.8"/>
<polyline points="744.0,640.0 755.6,638.5 767.3,641.5 776.0,642.9 773.1,645.8 758.5,644.4 746.9,642.9 744.0,640.0"/>
<polyline points="780.4,584.7 776.0,596.4 778.9,602.2 773.1,608.0 781.8,616.7 790.5,622.5 796.4,628.4"/>
<polyline points="793.5,631.3 799.3,629.8"/>
<polyline points="786.2,637.1 787.6,640.0"/>
<polyline points="735.3,584.7 741.1,590.5 749.8,593.5 744.0,602.2 752.7,608.0 741.1,613.8 746.9,619.6 738.2,625.5 729.5,625.5 720.7,616.7 714.9,608.0 709.1,602.2 703.3,596.4 697.5,590.5"/>
<polyline points="857.5,602.2 861.8,599.3 863.3,605.1 858.9,606.5 857.5,602.2"/>
<polyline points="607.6,308.7 612.7,304.9 619.1,301.1 617.8,298.5 622.9,297.3 625.5,294.7 629.3,293.5 631.8,290.9 635.6,288.4 638.2,285.8 635.6,284.5 640.7,282.0 638.2,278.2 633.1,279.5 638.2,275.6 643.3,274.4 648.4,271.8 652.2,268.6 649.6,270.5 653.5,273.1 656.0,275.6 658.5,278.2 663.6,278.2 668.7,275.6 666.2,270.5 663.6,268.0 668.7,266.7 673.8,265.5 678.9,264.2 684.0,262.9 689.1,261.6 694.2,260.4 699.3,257.8 701.8,259.7 708.2,257.8"/>
<polyline points="636.9,274.4 642.0,273.1 645.8,275.6 650.9,274.4 654.7,278.2 659.8,276.9 664.9,274.4 668.7,271.8 673.8,270.5 678.9,268.0 686.5,265.5 691.6,264.2 696.7,265.5 700.5,261.6"/>
<polyline points="635.6,285.8 640.7,284.5 645.8,282.0 650.9,280.7 657.3,279.5"/>
<polyline points="625.5,296.0 630.5,294.7 635.6,290.9 640.7,288.4 645.8,285.8 650.9,284.5"/>
<polyline points="714.5,257.8 720.9,255.3 727.3,252.7 733.6,251.5 740.0,250.2"/>
<polyline points="714.5,254.0 722.2,252.7 727.3,256.5 733.6,255.3 740.0,254.0"/>
<polyline points="521.3,344.5 529.5,354.3 522.9,364.2 532.7,374.0 542.5,383.8 552.4,390.3 568.7,388.7 581.8,378.9 588.4,380.5 591.6,393.6 598.2,406.7 604.7,419.8"/>
<polyline points="630.9,419.8 640.7,413.2 657.1,406.7 663.6,400.2 660.3,383.8 670.2,374.0 680.0,370.7 686.5,364.2 676.7,357.6 670.2,351.1 676.7,341.3 693.1,331.4 709.4,320.0 722.5,310.2 738.9,303.6 755.2,304.6 763.4,311.8 752.0,321.6 735.6,328.2 719.2,334.7 712.7,347.8 725.8,360.9 745.4,365.8 768.3,367.4 788.0,365.8 810.9,369.1 824.0,365.8 837.0,360.9"/>
<polyline points="725.8,370.7 748.7,374.0 771.6,375.6 794.5,374.0 820.7,374.0 827.2,369.1"/>
<polyline points="604.7,380.5 617.8,377.3 627.6,380.5 621.1,385.4 608.0,385.4 604.7,380.5"/>
<polyline points="630.9,387.1 637.4,383.8 634.2,392.0"/>
<polyline points="676.7,396.9 683.2,393.6 686.5,400.2 678.3,401.8 676.7,396.9"/>
<polyline points="735.6,387.1 748.7,382.2 755.2,387.1 742.1,390.3 735.6,387.1"/>
<polyline points="601.4,334.7 604.7,344.5 598.2,354.3 604.7,367.4 611.3,377.3"/>
<polyline points="738.9,303.6 742.1,292.2 735.6,282.4 729.1,275.8 725.8,262.7"/>
<polyline points="802.7,266.0 814.1,282.4 810.9,298.7 819.0,318.4 827.2,328.2 837.0,338.0 824.0,347.8"/>
<polyline points="589.0,153.0 598.0,158.0 600.0,162.0 608.0,166.0 620.0,168.4 626.0,171.6 624.0,173.6 632.0,175.6 631.0,178.0 636.0,181.0 648.0,184.0 660.0,187.0 666.0,186.4 670.0,182.0 669.0,179.0 676.0,177.0 681.0,174.0 684.0,170.0 689.0,167.0 696.0,165.0 706.0,166.0 714.0,169.0 720.0,171.0 732.0,173.6 736.0,172.0 740.0,174.0 750.0,175.0 756.0,174.0 742.0,170.0 728.0,167.6 716.0,165.6 704.0,164.0 692.0,162.0 684.0,158.0 678.0,155.0 672.0,153.6 664.0,152.4 656.0,152.0 652.0,154.0 656.0,159.0 652.0,160.0 646.0,158.0 642.0,155.0 636.0,153.0 628.0,154.0 620.0,152.0 610.0,151.0 600.0,151.6 592.0,151.6 589.0,153.0"/>
<polyline points="624.0,172.0 636.0,172.4 648.0,173.6 660.0,174.0 666.0,173.0"/>
<polyline points="630.0,168.0 640.0,167.6 652.0,167.0 664.0,167.0 668.0,167.6"/>
<polyline points="636.0,176.0 646.0,177.0 656.0,178.0"/>
<polyline points="646.0,182.0 658.0,183.0"/>
<polyline points="612.0,153.0 620.0,154.4 628.0,153.6"/>
<polyline points="678.0,153.0 686.0,155.0 692.0,156.0 700.0,155.0 710.0,154.0 720.0,152.4"/>
<polyline points="692.0,158.0 700.0,157.6 710.0,158.0 720.0,159.0 730.0,158.0 740.0,159.0 750.0,157.0 760.0,156.0"/>
<polyline points="714.0,170.0 714.0,178.0 720.0,175.0 730.0,176.0 734.0,179.6 737.0,175.0"/>
<polyline points="589.0,318.0 600.0,314.0 608.0,310.0 616.0,304.0 620.0,298.0 626.0,294.0 632.0,290.0 638.0,286.0 644.0,282.0 652.0,278.0 660.0,274.0 666.0,270.0 674.0,268.0 680.0,265.0 688.0,262.0 696.0,259.6 700.0,259.0 708.0,261.0 716.0,258.0 724.0,256.0 732.0,254.0 740.0,253.0 750.0,251.0 758.0,250.0"/>
<polyline points="614.0,283.0 618.0,281.0"/>
<polyline points="622.0,280.0 625.0,279.0"/>
<polyline points="632.0,279.0 640.0,276.0 648.0,272.0 652.0,270.0"/>
<polyline points="636.0,272.0 646.0,273.0 652.0,275.0 660.0,276.0"/>
<polyline points="664.0,268.0 670.0,266.0 680.0,264.0 688.0,261.0 696.0,258.0"/>
<polyline points="714.0,256.0 724.0,253.0 736.0,252.0 740.0,254.0 750.0,254.0"/>
<polyline points="590.0,317.0 598.0,312.0 606.0,310.0 612.0,306.0 620.0,302.0"/>
<polyline points="403.4,496.9 412.6,493.9 421.7,492.3 429.4,490.8 437.0,483.9 440.1,486.2 446.2,487.7 460.0,487.0 466.1,480.1 476.8,475.5 489.0,469.4"/>
<polyline points="336.1,455.6 340.7,457.2 338.4,460.2 343.8,461.7 351.4,452.6 345.3,451.0"/>
<polyline points="334.6,432.7 340.7,437.3 339.2,440.3 345.3,443.4 340.7,446.5"/>
<polyline points="383.5,397.5 388.1,399.1 385.0,400.6 380.5,399.1 383.5,397.5"/>
<polyline points="391.2,408.2 397.3,405.2 394.2,412.8 392.7,420.5"/>
<polyline points="397.3,412.8 403.4,411.3 406.5,415.9 401.9,418.9 397.3,415.9"/>
<polyline points="356.0,428.1 363.6,431.2 368.2,428.1 372.8,423.5"/>
<polyline points="780.0,252.0 788.0,249.0 796.0,248.0 800.0,250.0 810.0,251.0 820.0,252.0 826.0,254.0 832.0,257.0 826.0,258.0 820.0,259.6 814.0,262.0 820.0,264.0 830.0,263.0 836.0,265.0 846.0,264.0 856.0,266.0 866.0,268.0 880.0,269.0 892.0,270.0 904.0,272.0 916.0,276.0 920.0,278.0 932.0,280.0 940.0,282.0 952.0,286.0 956.0,293.0 950.0,296.0 940.0,299.0 928.0,302.0 916.0,303.0 904.0,302.0 892.0,300.0 884.0,299.0 874.0,298.0 866.0,297.0 860.0,296.0 854.0,295.0 848.0,293.0 842.0,291.0 850.0,292.0 856.0,296.0 864.0,298.0 876.0,303.0 880.0,306.0 874.0,312.0 878.0,319.0"/>
<polyline points="896.0,316.0 908.0,314.0 920.0,317.0 932.0,318.0 944.0,316.0 940.0,310.0 938.0,308.0 950.0,305.0 966.0,298.0 970.0,300.0 980.0,301.0 986.0,302.0 995.0,296.0 988.0,290.0 990.0,286.0 988.0,280.0 980.0,275.0 1000.0,275.0"/>
<polyline points="804.0,266.0 802.0,270.0 800.0,276.0 806.0,280.0 820.0,286.0 810.0,294.0 818.0,302.0 820.0,308.0 816.0,314.0 818.0,319.0"/>
<polyline points="784.0,271.0 792.0,272.4 800.0,268.0 803.0,266.0 794.0,268.0 784.0,271.0"/>
<polyline points="780.0,256.0 790.0,254.0 800.0,253.0 810.0,254.0 820.0,255.0"/>
<polyline points="166.8,309.5 173.0,308.9 180.5,305.5 184.5,302.7 187.3,300.0 194.1,300.7 198.2,301.4 200.9,304.1 203.6,305.5 202.3,307.5 206.4,310.2 210.5,306.8 218.6,302.0 224.1,304.1 228.2,306.1 229.5,302.7 233.6,301.4 239.1,302.7 243.2,302.0 248.6,304.1 255.5,302.7 259.5,301.4 265.0,298.0 269.1,300.0 275.9,300.7 282.7,299.3 285.5,300.0 282.7,302.7 281.4,305.5 285.5,306.8 295.0,308.9 293.6,310.9 297.7,313.6 292.3,314.3 290.9,317.7 285.5,317.7 282.7,319.8 277.3,321.1 269.1,324.5 260.9,325.9 252.7,327.3 247.3,328.6 241.8,331.4 233.6,332.0 225.5,332.7 217.3,330.7 211.8,329.3 207.7,328.0 200.9,327.3 194.1,325.9 187.3,325.2 192.7,324.5 198.2,323.2 195.5,321.1 192.7,317.7 187.3,316.4 180.5,316.4 173.6,317.0 172.3,315.7 177.7,315.0 184.5,314.3 194.1,313.6 192.7,312.3 185.9,310.9 177.7,310.2 166.8,309.5"/>
<polyline points="176.4,306.1 184.5,305.5 190.0,304.1"/>
<polyline points="173.6,308.2 180.5,306.8 187.3,308.2 194.1,308.9"/>
<polyline points="398.0,386.0 412.0,384.4 420.0,384.0 421.0,387.0 414.0,391.0 412.0,395.0 420.0,395.6 436.0,396.0 438.0,398.0 432.0,404.0 428.0,408.0 420.0,412.0 422.0,414.0 432.0,414.0 440.0,420.0 442.0,426.0 450.0,432.0 456.0,436.0 460.0,438.0 466.0,440.0 464.0,444.0 462.0,447.0 472.0,448.0 480.0,450.0 481.0,454.0 478.0,458.0 470.0,460.0 464.0,463.0 472.0,465.0 476.0,467.0 470.0,469.0 460.0,471.0 450.0,471.0 440.0,472.0 430.0,473.0 424.0,472.0 416.0,474.0 408.0,476.0 400.0,478.0 392.0,480.0 398.0,476.0 406.0,472.0 416.0,468.0 424.0,464.0 432.0,460.0 420.0,462.0 412.0,464.0 404.0,463.0 398.0,460.0 400.0,456.0 408.0,454.0 412.0,450.0 404.0,448.0 408.0,444.0 418.0,443.0 416.0,440.0 414.0,436.0 420.0,432.0 418.0,428.0 422.0,426.0 414.0,424.0 408.0,422.0 400.0,420.0 396.0,418.0 392.0,412.0 390.0,406.0 386.0,404.0 394.0,400.0 396.0,396.0 398.0,390.0 398.0,386.0"/>
<polyline points="339.0,434.0 346.0,432.0 356.0,430.0 360.0,424.0 372.0,421.0 386.0,423.0 394.0,430.0 386.0,434.0 384.0,440.0 389.0,447.0 386.0,452.0 380.0,455.0 368.0,458.0 356.0,461.0 344.0,462.0 336.0,459.0 334.0,456.0 340.0,453.0 338.0,448.0 340.0,442.0 339.0,434.0"/>
<polyline points="360.0,429.0 372.0,432.0 380.0,435.0 388.0,432.0"/>
<polyline points="374.0,390.0 380.0,387.0 385.0,388.0 384.0,392.0 378.0,394.0 374.0,390.0"/>
<polyline points="369.0,395.6 378.0,397.0 386.0,399.0"/>
<polyline points="373.0,344.4 378.0,345.6 380.0,347.0"/>
<polyline points="440.0,365.0 444.0,363.0 447.0,366.0 442.0,368.0 440.0,365.0"/>
<polyline points="420.0,380.0 424.0,379.0 427.0,381.0"/>
<polyline points="522.0,346.0 530.0,348.0 540.0,344.0"/>
<polyline points="520.0,356.0 528.0,358.0 540.0,352.0"/>
<polyline points="526.0,382.0 534.0,386.0 540.0,390.0"/>
<polyline points="540.0,346.0 548.0,345.0 554.0,342.0 562.0,340.0 570.0,338.0 578.0,334.0 584.0,330.0 592.0,327.0 600.0,324.0 610.0,322.0 620.0,320.0"/>
<polyline points="544.0,337.0 552.0,335.6 560.0,334.4 568.0,332.4"/>
<polyline points="540.0,344.0 548.0,343.6 556.0,342.0"/>
<polyline points="578.0,329.0 586.0,326.4 594.0,324.4"/>
<polyline points="540.0,440.0 548.0,439.0 560.0,438.0 570.0,439.0 576.0,440.0 580.0,438.0 592.0,435.0 600.0,433.0 612.0,431.0 620.0,430.0 628.0,434.0 632.0,437.0 644.0,434.0 656.0,429.0 668.0,427.0 680.0,427.0 692.0,429.0 700.0,428.0 712.0,425.0 714.0,420.0 712.0,416.0 710.0,410.0 716.0,396.0 726.0,394.0 738.0,396.0 742.0,402.0 750.0,402.0 754.0,388.0 744.0,388.0 738.0,384.0 740.0,376.0 750.0,374.0 760.0,374.0"/>
<polyline points="724.0,390.0 732.0,386.0 738.0,388.0 732.0,391.0 724.0,390.0"/>
<polyline points="702.0,429.0 714.0,432.0 732.0,432.0 738.0,434.0 746.0,446.0 740.0,454.0 746.0,466.0 750.0,474.0 756.0,490.0"/>
<polyline points="821.0,357.0 831.0,351.0 840.0,354.0 855.0,362.0 848.0,369.0 837.0,371.0 830.0,366.0 824.0,361.0 821.0,357.0"/>
<polyline points="867.0,343.0 874.0,339.0 884.0,342.0 890.0,346.0 897.0,354.0 895.0,359.0 884.0,359.0 880.0,356.0 876.0,352.0 872.0,347.0 867.0,343.0"/>
<polyline points="871.0,328.0 880.0,332.0 885.0,332.0 878.0,335.0 880.0,328.0"/>
<polyline points="879.0,320.0 888.0,324.0 900.0,326.0 910.0,328.0 916.0,324.0 912.0,321.0"/>
<polyline points="780.0,374.0 796.0,376.0 810.0,371.0 822.0,371.0 810.0,367.0 800.0,364.0 790.0,363.0 780.0,365.0"/>
<polyline points="820.0,322.0 826.0,326.0 822.0,329.0 830.0,332.0 838.0,338.0 828.0,344.0 816.0,348.0 804.0,353.0 796.0,356.0 788.0,358.0 780.0,362.0"/>
<polyline points="783.0,331.0 790.0,338.0 800.0,340.0 806.0,348.0 814.0,344.0 818.0,349.0 810.0,352.0 800.0,350.0 792.0,346.0 786.0,340.0 780.0,338.0"/>
<polyline points="905.0,383.0 912.0,380.0 920.0,379.0 928.0,388.0 920.0,390.0 905.0,383.0"/>
<polyline points="929.0,371.0 938.0,375.0"/>
<polyline points="974.0,398.0 983.0,395.6 978.0,400.0 979.0,406.0"/>
<polyline points="838.0,481.0 850.0,486.0 860.0,489.0"/>
<polyline points="150.0,613.6 154.0,615.0 159.0,614.4"/>
<polyline points="440.0,493.0 428.0,494.0 420.0,492.0 414.0,494.0 408.0,495.0 404.0,497.0 403.0,500.0 408.0,502.0 416.0,504.0 428.0,508.0 438.0,510.0 440.0,516.0 444.0,524.0 452.0,532.0 448.0,530.0 446.0,536.0 445.0,544.0 442.0,550.0"/>
<polyline points="350.0,555.0 360.0,550.0 372.0,549.0 380.0,551.0 396.0,551.0 410.0,552.0 424.0,553.0 432.0,552.0 442.0,551.0"/>
<polyline points="442.0,551.0 450.0,556.0 460.0,559.0 472.0,560.0 478.0,561.0"/>
<polyline points="478.0,561.0 488.0,561.0 496.0,559.0 499.0,566.0 492.0,570.0 484.0,572.0 476.0,576.0 468.0,582.0 460.0,592.0 456.0,595.0 460.0,602.0 456.0,610.0 450.0,615.0 440.0,618.0 432.0,624.0 420.0,626.0 408.0,626.0 400.0,628.0 394.0,632.0 390.0,633.0 384.0,628.0 384.0,624.0 376.0,622.0 368.0,620.0 356.0,622.0 354.0,618.0 355.0,610.0 354.0,604.0 346.0,604.0 348.0,598.0 352.0,590.0 353.0,580.0 354.0,570.0 352.0,562.0 350.0,555.0"/>
<polyline points="354.0,567.0 360.0,568.0 370.0,567.0 378.0,567.0 385.0,571.0 380.0,576.0 378.0,584.0 376.0,590.0 372.0,594.0 370.0,600.0 374.0,606.0 374.0,610.0 370.0,614.0 370.0,618.0"/>
<polyline points="496.0,559.0 496.0,554.0 504.0,551.0 510.0,550.0 520.0,552.0 530.0,556.0 540.0,555.0"/>
<polyline points="394.0,634.0 396.0,639.0 408.0,642.0 424.0,642.0 432.0,644.0 440.0,646.0 448.0,642.0 460.0,636.0 472.0,632.0 480.0,628.0 496.0,626.0 510.0,624.0 520.0,626.0 530.0,623.0 540.0,623.0"/>
<polyline points="436.0,644.0 440.0,650.0 440.0,660.0"/>
<polyline points="390.0,634.0 384.0,642.0 378.0,650.0 372.0,658.0"/>
<polyline points="490.0,594.0 496.0,590.0 501.0,592.0 498.0,596.0 490.0,594.0"/>
<polyline points="477.0,602.0 479.0,599.0"/>
</g>
<!-- frame -->
<rect x="100.5" y="149.5" width="900" height="550" fill="none" stroke="#000" stroke-width="3" shape-rendering="crispEdges"/>
<!-- ticks -->
<g stroke="#000" stroke-width="1" shape-rendering="crispEdges">
<line x1="95" y1="149.5" x2="99" y2="149.5"/><line x1="95" y1="259.5" x2="99" y2="259.5"/><line x1="95" y1="369.5" x2="99" y2="369.5"/><line x1="95" y1="479.5" x2="99" y2="479.5"/><line x1="95" y1="589.5" x2="99" y2="589.5"/><line x1="95" y1="699.5" x2="99" y2="699.5"/>
<line x1="100.5" y1="701" x2="100.5" y2="705"/><line x1="220.5" y1="701" x2="220.5" y2="705"/><line x1="340.5" y1="701" x2="340.5" y2="705"/><line x1="460.5" y1="701" x2="460.5" y2="705"/><line x1="580.5" y1="701" x2="580.5" y2="705"/><line x1="700.5" y1="701" x2="700.5" y2="705"/><line x1="820.5" y1="701" x2="820.5" y2="705"/><line x1="940.5" y1="701" x2="940.5" y2="705"/>
</g>
<g font-size="13" fill="#000" text-anchor="end">
<text x="91" y="154.5">80N</text><text x="91" y="264.5">70N</text><text x="91" y="374.5">60N</text><text x="91" y="484.5">50N</text><text x="91" y="594.5">40N</text><text x="91" y="704.5">30N</text>
</g>
<g font-size="13" fill="#000" text-anchor="middle">
<text x="100" y="717">30W</text><text x="220" y="717">20W</text><text x="340" y="717">10W</text><text x="460" y="717">0</text><text x="580" y="717">10E</text><text x="700" y="717">20E</text><text x="820" y="717">30E</text><text x="940" y="717">40E</text>
</g>
<!-- titles -->
<g font-size="20.5" fill="#eb0000" lengthAdjust="spacingAndGlyphs">
<text x="313" y="110" textLength="62.7" lengthAdjust="spacingAndGlyphs">CFSv2</text>
<text x="391" y="110" textLength="85" lengthAdjust="spacingAndGlyphs">monthly</text>
<text x="490.3" y="110" textLength="47.3" lengthAdjust="spacingAndGlyphs">Prec</text>
<text x="551.8" y="110" textLength="108.8" lengthAdjust="spacingAndGlyphs">anomalies</text>
<text x="674.7" y="110" textLength="112.3" lengthAdjust="spacingAndGlyphs">(mm/day)</text>
</g>
<text x="99.7" y="144.7" font-size="17" fill="#1e32ff" stroke="#1e32ff" stroke-width="0.5" textLength="31.6" lengthAdjust="spacingAndGlyphs">Jan</text>
<text x="144" y="144.7" font-size="17" fill="#1e32ff" stroke="#1e32ff" stroke-width="0.5" textLength="45.8" lengthAdjust="spacingAndGlyphs">2014</text>
<g font-size="13" fill="#000">
<text x="668.2" y="144.7" textLength="39.3" lengthAdjust="spacingAndGlyphs">Initial</text>
<text x="718.1" y="144.7" textLength="82.6" lengthAdjust="spacingAndGlyphs">conditions:</text>
<text x="810.6" y="144.7" textLength="188" lengthAdjust="spacingAndGlyphs">20Dec2013—29Dec2013</text>
</g>
<text x="849" y="120" font-size="17.4" fill="#000" stroke="#000" stroke-width="0.6" textLength="152" lengthAdjust="spacingAndGlyphs">NWS/NCEP/CPC</text>
<!-- NOAA logo -->
<defs><clipPath id="lc"><circle cx="925" cy="75" r="30"/></clipPath></defs>
<g clip-path="url(#lc)">
<polygon fill="#00ffff" points="894.9,64.8 910.2,79.2 917.2,83.3 922.9,84.8 916.4,88.4 925.4,88.2 939.4,80.8 940.7,75.5 953.4,64.4 955.9,108.0 894.9,108.0"/>
<polygon fill="#0a28dc" points="899.9,57.4 899.9,38.0 950.0,38.0 950.0,57.4 943.5,60.2 940.2,69.3 936.1,77.5 928.7,80.8 925.4,80.8 919.7,78.4 914.7,72.6 909.8,65.2"/>
</g>
<text x="912" y="65" font-size="11" font-weight="bold" fill="#fff" textLength="26" lengthAdjust="spacingAndGlyphs">NOAA</text>
<!-- colorbar -->
<g shape-rendering="crispEdges">
<rect x="297" y="734" width="56" height="16" fill="#a50000"/>
<rect x="353" y="734" width="56" height="16" fill="#c00000"/>
<rect x="409" y="734" width="56" height="16" fill="#ff3200"/>
<rect x="465" y="734" width="56" height="16" fill="#ffa000"/>
<rect x="521" y="734" width="56" height="16" fill="#ffffff"/>
<rect x="577" y="734" width="56" height="16" fill="#96f58c"/>
<rect x="633" y="734" width="56" height="16" fill="#50f050"/>
<rect x="689" y="734" width="56" height="16" fill="#1eb41e"/>
<rect x="745" y="734" width="56" height="16" fill="#0fa00f"/>
</g>
<polygon points="297,734 241,742 297,750" fill="#6b4134" stroke="#000" stroke-width="2" stroke-linejoin="miter"/>
<polygon points="801,734 859,742 801,750" fill="#1964d2" stroke="#000" stroke-width="1"/>
<g fill="none" stroke="#000" stroke-width="2" shape-rendering="crispEdges">
<rect x="297" y="734" width="504" height="16"/>
<line x1="353" y1="734" x2="353" y2="750"/><line x1="409" y1="734" x2="409" y2="750"/><line x1="465" y1="734" x2="465" y2="750"/><line x1="521" y1="734" x2="521" y2="750"/><line x1="577" y1="734" x2="577" y2="750"/><line x1="633" y1="734" x2="633" y2="750"/><line x1="689" y1="734" x2="689" y2="750"/><line x1="745" y1="734" x2="745" y2="750"/>
</g>
<g font-size="13" fill="#000" text-anchor="middle">
<text x="296" y="763">−1</text><text x="353" y="763">−0.8</text><text x="409" y="763">−0.6</text><text x="465" y="763">−0.4</text><text x="521" y="763">−0.2</text><text x="577" y="763">0.2</text><text x="633" y="763">0.4</text><text x="689" y="763">0.6</text><text x="745" y="763">0.8</text><text x="801" y="763">1</text>
</g>
</svg>
</body></html>
